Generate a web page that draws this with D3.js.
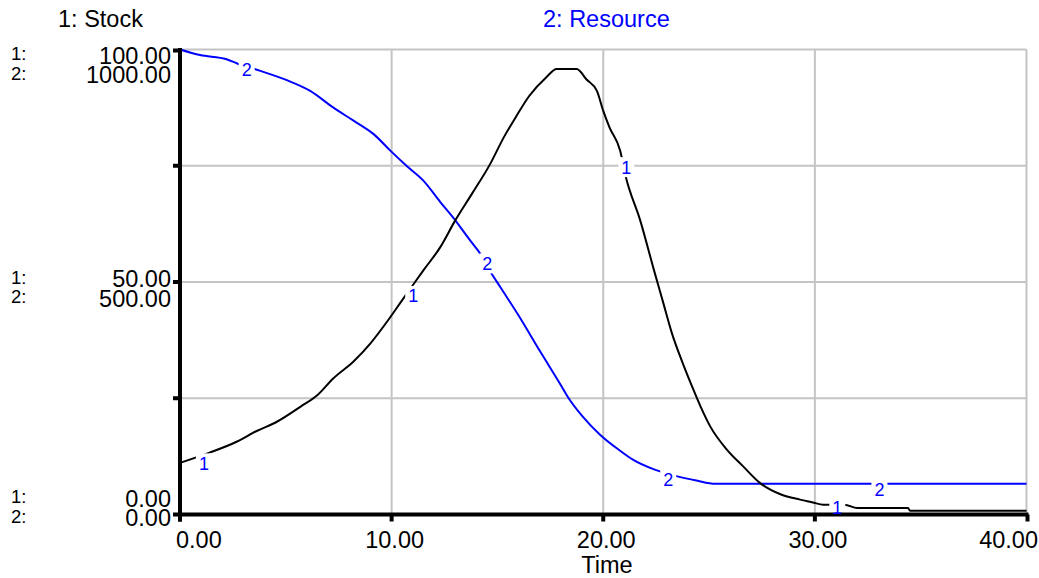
<!DOCTYPE html>
<html><head><meta charset="utf-8">
<script src="https://cdn.jsdelivr.net/npm/d3@7"></script>
<style>html,body{margin:0;padding:0;background:#fff;}svg{display:block;}text{font-family:"Liberation Sans",Arial,sans-serif;}</style>
</head><body>
<script>
// ---- data ----
const stockTime  = [0, 1.4, 2.7, 3.6, 4.6, 5.7, 6.5, 7.25, 8.2, 9.0, 9.9, 10.5, 11.0, 11.5, 12.3, 13.0, 13.8, 14.66, 15.3, 15.9, 16.5, 17.3, 17.8, 18.75, 19.2, 19.7, 20.0, 20.3, 20.8, 21.05, 21.75, 22.4, 22.8, 23.25, 23.7, 24.2, 24.6, 25.06, 25.85, 26.6, 27.4, 28.4, 29.3, 29.9, 30.4, 31.4, 32.0, 34.4, 34.5, 40];
const stockValue = [11.1, 13.3, 15.7, 17.9, 20.0, 23.2, 25.7, 29.3, 32.9, 36.8, 42.2, 46.1, 49.3, 52.5, 57.5, 63.2, 69.0, 75.4, 81.1, 85.7, 90.0, 94.0, 95.8, 95.8, 93.6, 91.1, 86.8, 83.2, 78.2, 72.9, 63.2, 52.5, 46.1, 38.9, 33.2, 27.5, 23.2, 18.9, 13.9, 10.4, 6.8, 4.3, 3.2, 2.6, 2.1, 2.1, 1.4, 1.4, 0.8, 0.8];
const resourceTime  = [0, 0.95, 2.2, 2.7, 3.8, 5.05, 6.15, 7.25, 8.2, 9.15, 9.95, 10.7, 11.5, 12.3, 12.9, 13.7, 14.2, 14.7, 15.15, 16, 17, 18, 18.35, 19, 19.86, 20.8, 21.4, 22.4, 23.5, 24.4, 25.3, 40];
const resourceValue = [1000, 988, 979, 970, 954, 934, 911, 875, 847, 818, 782, 750, 718, 672, 639, 590, 560, 520, 488, 428, 352, 278, 251, 212, 171, 137, 118, 97, 82, 73, 66, 66];
const stockLabelTime = [1.13, 11.02, 21.09, 31.06];
const stockLabelValue = [11.0, 47.0, 74.7, 1.4];
const resourceLabelTime = [3.15, 14.52, 23.07, 33.05];
const resourceLabelValue = [958, 540, 75.7, 52.7];
const xTicks = [0, 10, 20, 30, 40];
const xTickLabels = ["0.00", "10.00", "20.00", "30.00", "40.00"];
const yTicks = [100, 50, 0];
const stockTickLabels = ["100.00", "50.00", "0.00"];
const resourceTickLabels = ["1000.00", "500.00", "0.00"];
const yMinorTicks = [25, 75];
const legendNames = ["1: Stock", "2: Resource"];

// ---- layout ----
const W = 1039, H = 578;
const x = d3.scaleLinear().domain([0, 40]).range([180, 1026.5]);
const yS = d3.scaleLinear().domain([0, 100]).range([514.5, 49.5]);
const yR = d3.scaleLinear().domain([0, 1000]).range([514.5, 49.5]);
const svg = d3.select("body").append("svg").attr("width", W).attr("height", H);
const BLUE = "#0000ff";

// grid
const grid = svg.append("g").attr("stroke", "#c4c4c4").attr("stroke-width", 2);
[25, 50, 75, 100].forEach(v => grid.append("line").attr("x1", x(0)).attr("x2", x(40)).attr("y1", yS(v)).attr("y2", yS(v)));
[10, 20, 30, 40].forEach(t => grid.append("line").attr("x1", x(t)).attr("x2", x(t)).attr("y1", yS(100)).attr("y2", yS(0)));

// curves
const stockData = stockTime.map((t, i) => [t, stockValue[i]]);
const resData = resourceTime.map((t, i) => [t, resourceValue[i]]);
svg.append("path").datum(resData).attr("fill", "none").attr("stroke", BLUE).attr("stroke-width", 2)
  .attr("d", d3.line().x(d => x(d[0])).y(d => yR(d[1])).curve(d3.curveMonotoneX));
svg.append("path").datum(stockData).attr("fill", "none").attr("stroke", "#000").attr("stroke-width", 2)
  .attr("d", d3.line().x(d => x(d[0])).y(d => yS(d[1])).curve(d3.curveMonotoneX));

// curve label boxes
const labels = stockLabelTime.map((t, i) => ({px: x(t), py: yS(stockLabelValue[i]), txt: "1"}))
  .concat(resourceLabelTime.map((t, i) => ({px: x(t), py: yR(resourceLabelValue[i]), txt: "2"})));
svg.append("g").selectAll("rect").data(labels).join("rect")
  .attr("x", d => d.px - 8).attr("y", d => d.py - 10).attr("width", 16).attr("height", 20).attr("fill", "#fff");

// axes
const ax = svg.append("g").attr("stroke", "#000").attr("stroke-width", 4).attr("stroke-linecap", "butt");
ax.append("line").attr("x1", x(0)).attr("x2", x(0)).attr("y1", yS(100) - 1.5).attr("y2", yS(0) + 7);
ax.append("line").attr("x1", x(0) - 2).attr("x2", x(40) + 2).attr("y1", yS(0)).attr("y2", yS(0));
yTicks.concat(yMinorTicks).forEach(v => ax.append("line").attr("x1", x(0) - 7).attr("x2", x(0)).attr("y1", yS(v) + (v === 100 ? 1 : 0)).attr("y2", yS(v) + (v === 100 ? 1 : 0)));
xTicks.forEach(t => ax.append("line").attr("x1", x(t) + (t === 40 ? 1 : 0)).attr("x2", x(t) + (t === 40 ? 1 : 0)).attr("y1", yS(0)).attr("y2", yS(0) + 7));

// curve label text
svg.append("g").selectAll("text").data(labels).join("text")
  .attr("x", d => d.px).attr("y", d => d.py + 6.5).attr("text-anchor", "middle")
  .attr("font-size", 18).attr("fill", BLUE).text(d => d.txt);

// x tick labels
const FS = 23.5;
xTicks.forEach((t, i) => {
  const el = svg.append("text").attr("font-size", FS).attr("fill", "#000").attr("y", 548).text(xTickLabels[i]);
  if (i === 0) el.attr("x", 176).attr("text-anchor", "start");
  else if (i === xTicks.length - 1) el.attr("x", 1038).attr("text-anchor", "end");
  else el.attr("x", x(t) + 3).attr("text-anchor", "middle");
});
svg.append("text").attr("x", 607).attr("y", 573).attr("text-anchor", "middle").attr("font-size", FS).text("Time");

// y tick labels (two rows per tick)
const rowTopOffset = [-2.5, -11.5, -24.5];
yTicks.forEach((v, i) => {
  const top1 = yS(v) + rowTopOffset[i];
  const top2 = top1 + 19.5;
  svg.append("text").attr("x", 171).attr("y", top1 + 0.716 * FS).attr("text-anchor", "end").attr("font-size", FS).text(stockTickLabels[i]);
  svg.append("text").attr("x", 171).attr("y", top2 + 0.716 * FS).attr("text-anchor", "end").attr("font-size", FS).text(resourceTickLabels[i]);
  svg.append("text").attr("x", 11).attr("y", top1 + 0.716 * 18.5).attr("font-size", 18.5).text("1:");
  svg.append("text").attr("x", 11).attr("y", top2 + 0.716 * 18.5).attr("font-size", 18.5).text("2:");
});

// legends
svg.append("text").attr("x", 58).attr("y", 26.5).attr("font-size", FS).attr("fill", "#000").text(legendNames[0]);
svg.append("text").attr("x", 543).attr("y", 26.5).attr("font-size", FS).attr("fill", BLUE).text(legendNames[1]);
</script>
</body></html>
